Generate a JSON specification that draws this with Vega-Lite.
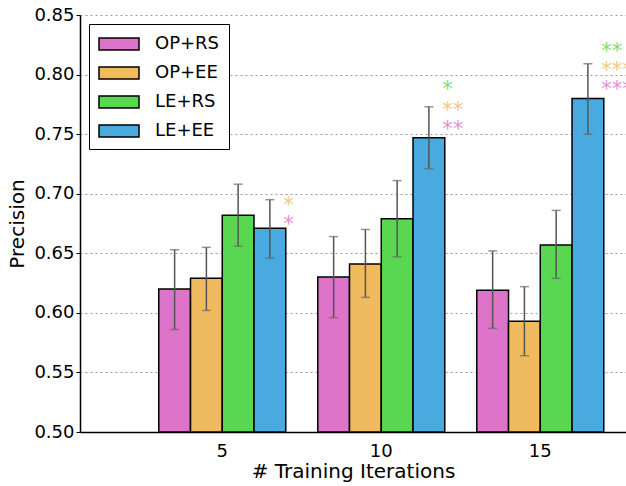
{
  "$schema": "https://vega.github.io/schema/vega-lite/v6.json",
  "width": 546,
  "height": 417,
  "autosize": "none",
  "padding": {"left": 80, "top": 15, "right": 0, "bottom": 54},
  "config": {
    "font": "DejaVu Sans",
    "view": {"stroke": null},
    "axis": {"labelColor": "black", "titleColor": "black", "labelFont": "DejaVu Sans", "titleFont": "DejaVu Sans", "titleFontWeight": "normal"}
  },
  "datasets": {
    "bars": [
      {"iter": "5", "method": "OP+RS", "p": 0.620, "lo": 0.586, "hi": 0.653},
      {"iter": "5", "method": "OP+EE", "p": 0.629, "lo": 0.602, "hi": 0.655},
      {"iter": "5", "method": "LE+RS", "p": 0.682, "lo": 0.656, "hi": 0.708},
      {"iter": "5", "method": "LE+EE", "p": 0.671, "lo": 0.646, "hi": 0.695},
      {"iter": "10", "method": "OP+RS", "p": 0.630, "lo": 0.596, "hi": 0.664},
      {"iter": "10", "method": "OP+EE", "p": 0.641, "lo": 0.613, "hi": 0.670},
      {"iter": "10", "method": "LE+RS", "p": 0.679, "lo": 0.647, "hi": 0.711},
      {"iter": "10", "method": "LE+EE", "p": 0.747, "lo": 0.721, "hi": 0.773},
      {"iter": "15", "method": "OP+RS", "p": 0.619, "lo": 0.587, "hi": 0.652},
      {"iter": "15", "method": "OP+EE", "p": 0.593, "lo": 0.564, "hi": 0.622},
      {"iter": "15", "method": "LE+RS", "p": 0.657, "lo": 0.629, "hi": 0.686},
      {"iter": "15", "method": "LE+EE", "p": 0.780, "lo": 0.750, "hi": 0.809}
    ],
    "stars": [
      {"iter": "5", "method": "OP+EE", "label": "*", "y": 0.694},
      {"iter": "5", "method": "OP+RS", "label": "*", "y": 0.678},
      {"iter": "10", "method": "LE+RS", "label": "*", "y": 0.791},
      {"iter": "10", "method": "OP+EE", "label": "**", "y": 0.774},
      {"iter": "10", "method": "OP+RS", "label": "**", "y": 0.758},
      {"iter": "15", "method": "LE+RS", "label": "**", "y": 0.823},
      {"iter": "15", "method": "OP+EE", "label": "***", "y": 0.807},
      {"iter": "15", "method": "OP+RS", "label": "***", "y": 0.791}
    ]
  },
  "layer": [
    {
      "data": {"name": "bars"},
      "mark": {"type": "bar", "stroke": "black", "strokeWidth": 1.5},
      "encoding": {
        "x": {
          "field": "iter", "type": "ordinal", "sort": ["5", "10", "15"],
          "scale": {"paddingInner": 0.2013, "paddingOuter": 0.3175, "align": 0.78},
          "axis": {
            "title": "# Training Iterations", "titleFontSize": 20, "titlePadding": 1,
            "labelFontSize": 18, "labelAngle": 0, "labelPadding": 10, "ticks": false,
            "domainColor": "black", "domainWidth": 1.5, "grid": false
          }
        },
        "xOffset": {
          "field": "method", "type": "nominal", "sort": ["OP+RS", "OP+EE", "LE+RS", "LE+EE"],
          "scale": {"paddingInner": 0, "paddingOuter": 0}
        },
        "y": {
          "field": "p", "type": "quantitative",
          "scale": {"domain": [0.5, 0.85], "zero": false, "nice": false},
          "axis": {
            "title": "Precision", "titleFontSize": 20, "titlePadding": 6,
            "labelFontSize": 18, "format": ".2f", "values": [0.5, 0.55, 0.6, 0.65, 0.7, 0.75, 0.8, 0.85],
            "tickSize": 4, "tickColor": "black", "labelPadding": 2,
            "domainColor": "black", "domainWidth": 1.5,
            "grid": true, "gridColor": "#999999", "gridDash": [2, 3], "gridWidth": 1
          }
        },
        "y2": {"datum": 0.5},
        "fill": {
          "field": "method", "type": "nominal", "sort": ["OP+RS", "OP+EE", "LE+RS", "LE+EE"],
          "scale": {"domain": ["OP+RS", "OP+EE", "LE+RS", "LE+EE"], "range": ["#DE73CA", "#F0BA5E", "#5AD750", "#48AADF"]},
          "legend": {
            "title": null, "orient": "top-left", "offset": 9, "padding": 9,
            "symbolType": "M-1,-0.6H3V0.6H-1Z", "symbolSize": 400,
            "symbolStrokeColor": "black", "symbolStrokeWidth": 1.5, "symbolOpacity": 1,
            "labelFontSize": 18, "labelFont": "DejaVu Sans", "labelColor": "black",
            "labelOffset": 35, "rowPadding": 9,
            "strokeColor": "black", "fillColor": "white"
          }
        }
      }
    },
    {
      "data": {"name": "bars"},
      "mark": {"type": "rule", "color": "#555555", "strokeWidth": 1.5},
      "encoding": {
        "x": {"field": "iter", "type": "ordinal", "sort": ["5", "10", "15"]},
        "xOffset": {"field": "method", "type": "nominal", "sort": ["OP+RS", "OP+EE", "LE+RS", "LE+EE"]},
        "y": {"field": "lo", "type": "quantitative"},
        "y2": {"field": "hi"}
      }
    },
    {
      "data": {"name": "bars"},
      "mark": {"type": "tick", "color": "#666666", "size": 9, "thickness": 1.5, "orient": "horizontal"},
      "encoding": {
        "x": {"field": "iter", "type": "ordinal", "sort": ["5", "10", "15"]},
        "xOffset": {"field": "method", "type": "nominal", "sort": ["OP+RS", "OP+EE", "LE+RS", "LE+EE"]},
        "y": {"field": "lo", "type": "quantitative"}
      }
    },
    {
      "data": {"name": "bars"},
      "mark": {"type": "tick", "color": "#666666", "size": 9, "thickness": 1.5, "orient": "horizontal"},
      "encoding": {
        "x": {"field": "iter", "type": "ordinal", "sort": ["5", "10", "15"]},
        "xOffset": {"field": "method", "type": "nominal", "sort": ["OP+RS", "OP+EE", "LE+RS", "LE+EE"]},
        "y": {"field": "hi", "type": "quantitative"}
      }
    },
    {
      "data": {"name": "stars"},
      "mark": {"type": "text", "align": "left", "baseline": "alphabetic", "dx": 61, "dy": 11, "fontSize": 21, "opacity": 0.8, "font": "DejaVu Sans"},
      "encoding": {
        "x": {"field": "iter", "type": "ordinal", "sort": ["5", "10", "15"]},
        "y": {"field": "y", "type": "quantitative"},
        "text": {"field": "label"},
        "fill": {"field": "method", "type": "nominal", "legend": null}
      }
    },
    {
      "mark": {"type": "rule", "color": "black", "strokeWidth": 1.5},
      "encoding": {"y": {"datum": 0.85}}
    }
  ]
}
